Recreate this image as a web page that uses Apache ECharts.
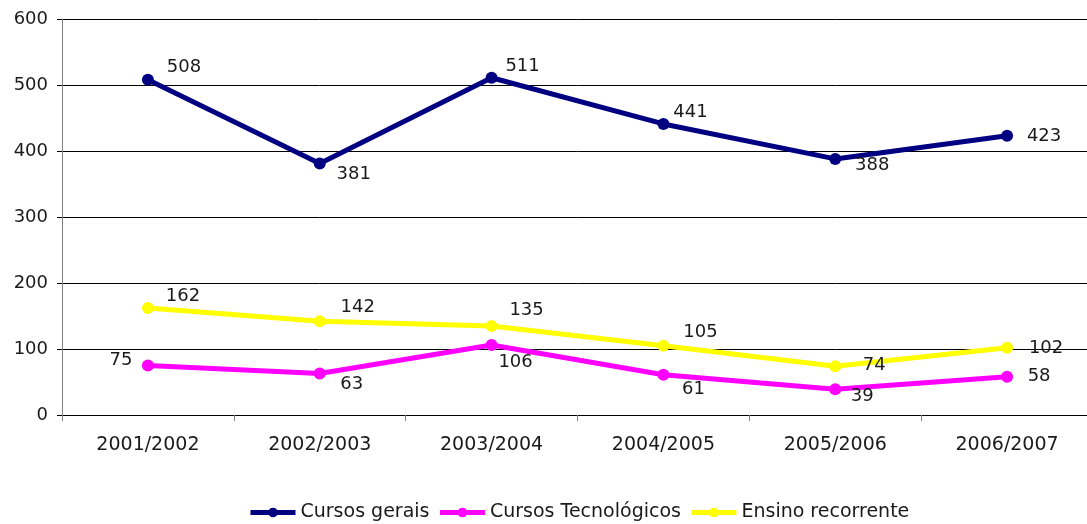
<!DOCTYPE html>
<html>
<head>
<meta charset="utf-8">
<script src="https://cdn.jsdelivr.net/npm/echarts@6/dist/echarts.min.js"></script>
<style>html,body{margin:0;padding:0;background:#fff;overflow:hidden}#c{width:1100px;height:524px}</style>
</head>
<body>
<div id="c"></div>
<script>
const categories = ['2001/2002','2002/2003','2003/2004','2004/2005','2005/2006','2006/2007'];
const cursosGerais = [508, 381, 511, 441, 388, 423];
const cursosTecnologicos = [75, 63, 106, 61, 39, 58];
const ensinoRecorrente = [162, 142, 135, 105, 74, 102];
const seriesNames = ['Cursos gerais', 'Cursos Tecnológicos', 'Ensino recorrente'];
const yTicks = { min: 0, max: 600, interval: 100 };

// label offsets (style only)
const offGerais = [[36,-12],[34,11],[31,-11],[27,-12],[37,6],[37,1]];
const offTec = [[-27,-5],[32,11],[24,17],[30,15],[27,7],[32,0]];
const offEns = [[35,-12],[38,-14],[35,-16],[37,-13],[39,-1],[39,1]];

const FONT = 'DejaVu Sans';
function mk(name, values, offs, color) {
  return {
    name: name, type: 'line',
    data: values.map((v, i) => ({ value: v, label: { offset: offs[i] } })),
    symbol: 'circle', symbolSize: 12,
    lineStyle: { color: color, width: 5 },
    itemStyle: { color: color },
    label: { show: true, position: 'inside', align: 'center', verticalAlign: 'middle',
      color: '#1a1a1a', fontFamily: FONT, fontSize: 18 },
    emphasis: { disabled: true },
    z: 3
  };
}
const chart = echarts.init(document.getElementById('c'));
chart.setOption({
  animation: false,
  backgroundColor: '#fff',
  grid: { left: 62, width: 1031, top: 19, height: 396 },
  legend: {
    top: 498, left: 243, itemWidth: 45, itemHeight: 12, itemGap: 8,
    lineStyle: { width: 5 },
    textStyle: { fontFamily: FONT, fontSize: 19, color: '#1a1a1a' },
    data: seriesNames
  },
  xAxis: {
    type: 'category', data: categories, boundaryGap: true,
    axisLine: { show: true, lineStyle: { color: '#000', width: 1 } },
    axisTick: { show: true, length: 6, lineStyle: { color: '#808080' } },
    axisLabel: { margin: 21, color: '#1a1a1a', fontFamily: FONT, fontSize: 19 }
  },
  yAxis: {
    type: 'value', min: yTicks.min, max: yTicks.max, interval: yTicks.interval,
    axisLine: { show: true, lineStyle: { color: '#808080', width: 1 } },
    axisTick: { show: true, length: 5, lineStyle: { color: '#000' } },
    splitLine: { show: true, lineStyle: { color: '#000', width: 1 } },
    axisLabel: { margin: 14, color: '#1a1a1a', fontFamily: FONT, fontSize: 18 }
  },
  series: [
    mk(seriesNames[0], cursosGerais, offGerais, '#000080'),
    mk(seriesNames[1], cursosTecnologicos, offTec, '#ff00ff'),
    mk(seriesNames[2], ensinoRecorrente, offEns, '#ffff00')
  ]
});
</script>
</body>
</html>
